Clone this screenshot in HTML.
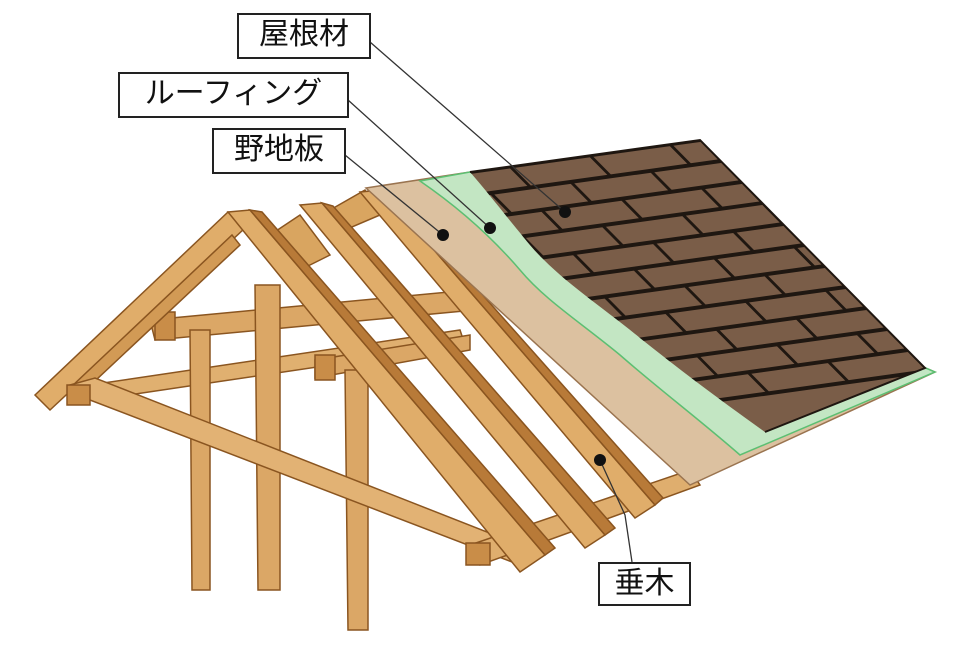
<!DOCTYPE html>
<html><head><meta charset="utf-8"><style>
html,body{margin:0;padding:0;background:#fff;}
.lab{position:absolute;border:2px solid #222;background:#fff;font-family:"Liberation Sans","Noto Sans CJK JP",sans-serif;font-size:30px;line-height:40px;color:#111;text-align:center;box-sizing:border-box;}
</style></head><body>
<div style="position:relative;width:962px;height:651px;overflow:hidden;">
<svg width="962" height="651" viewBox="0 0 962 651" style="position:absolute;left:0;top:0">
<defs>
<clipPath id="sh"><path d="M470,172 L700,140 L925,368 L765,432 C720,400 680,370 640,338 C600,305 560,280 530,245 C505,215 490,195 470,172 Z"/></clipPath>
</defs>
<g stroke="#8a5520" stroke-width="1.5">
<polygon points="270,235 300,215 330,255 300,270" fill="#d9a560"/>
<polygon points="330,210 365,190 380,215 345,230" fill="#d9a560"/>
<polygon points="150,320 470,290 475,310 155,340" fill="#dba766"/>
<polygon points="155,312 175,312 175,340 155,340" fill="#c98d48"/>
<polygon points="90,385 460,330 465,345 95,400" fill="#e0b070"/>
<polygon points="315,360 470,335 470,350 315,378" fill="#dba766"/>
<polygon points="315,355 335,355 335,380 315,380" fill="#c98d48"/>
<polygon points="35,395 228,212 245,228 50,410" fill="#e0ad6a"/>
<polygon points="70,388 232,235 240,245 80,395" fill="#d29a55"/>
<polygon points="190,330 210,330 210,590 192,590" fill="#dba766"/>
<polygon points="255,285 280,285 280,590 258,590" fill="#dba766"/>
<polygon points="345,370 368,370 368,630 348,630" fill="#dba766"/>
<polygon points="70,385 95,378 520,545 520,565 90,400 70,400" fill="#e2b274"/>
<polygon points="67,385 90,385 90,405 67,405" fill="#c98d48"/>
<polygon points="470,545 690,470 700,485 480,565" fill="#dfae6e"/>
<polygon points="466,543 490,543 490,565 466,565" fill="#c98d48"/>
<polygon points="228,212 250,210 545,555 520,572" fill="#e0ad6a"/>
<polygon points="250,210 262,212 555,548 545,555" fill="#b87a38"/>
<polygon points="300,205 322,203 605,535 585,548" fill="#e0ad6a"/>
<polygon points="322,203 333,206 615,528 605,535" fill="#b87a38"/>
<polygon points="360,192 382,190 655,505 635,518" fill="#e0ad6a"/>
<polygon points="382,190 392,193 663,498 655,505" fill="#b87a38"/>
</g>
<!-- sheathing -->
<polygon points="366,188 470,172 935,372 690,485" fill="#dcc1a0" stroke="#9a7450" stroke-width="1.5"/>
<!-- green roofing -->
<path d="M420,181 L470,172 L935,372 L740,455 C700,420 660,390 620,355 C580,322 545,300 520,270 C490,235 455,205 420,181 Z" fill="#c3e6c3" stroke="#5cbf72" stroke-width="1.5"/>
<!-- shingles -->
<path d="M470,172 L700,140 L925,368 L765,432 C720,400 680,370 640,338 C600,305 560,280 530,245 C505,215 490,195 470,172 Z" fill="#7a5d48"/>
<g clip-path="url(#sh)" stroke="#1f1711" stroke-width="3.5" fill="none">
<g transform="matrix(1,-0.139,0.99,1.0,470,172)">
<path d="M-200,0H600 M-200,21H600 M-200,42H600 M-200,63H600 M-200,84H600 M-200,105H600 M-200,126H600 M-200,147H600 M-200,168H600 M-200,189H600 M-200,210H600 M-200,231H600"/>
<path d="M-120,0V21M-40,0V21M40,0V21M120,0V21M200,0V21M280,0V21
M-80,21V42M0,21V42M80,21V42M160,21V42M240,21V42
M-130,42V63M-50,42V63M30,42V63M110,42V63M190,42V63M270,42V63
M-90,63V84M-10,63V84M70,63V84M150,63V84M230,63V84
M-140,84V105M-60,84V105M20,84V105M100,84V105M180,84V105M260,84V105
M-100,105V126M-20,105V126M60,105V126M140,105V126M220,105V126
M-150,126V147M-70,126V147M10,126V147M90,126V147M170,126V147M250,126V147
M-110,147V168M-30,147V168M50,147V168M130,147V168M210,147V168
M-160,168V189M-80,168V189M0,168V189M80,168V189M160,168V189M240,168V189
M-120,189V210M-40,189V210M40,189V210M120,189V210M200,189V210
M-170,210V231M-90,210V231M-10,210V231M70,210V231M150,210V231"/>
</g>
</g>
<path d="M470,172 L700,140 L925,368 L765,432" fill="none" stroke="#1f1711" stroke-width="2"/>
<g stroke="#333" stroke-width="1.3" fill="none">
<line x1="370" y1="42" x2="565" y2="212"/>
<line x1="348" y1="100" x2="490" y2="228"/>
<line x1="345" y1="155" x2="443" y2="235"/>
<polyline points="600,460 625,515 632,562"/>
</g>
<g fill="#111">
<circle cx="565" cy="212" r="6"/><circle cx="490" cy="228" r="6"/><circle cx="443" cy="235" r="6"/><circle cx="600" cy="460" r="6"/>
</g>
</svg>
<div class="lab" style="left:237px;top:13px;width:134px;height:46px;">屋根材</div>
<div class="lab" style="left:118px;top:72px;width:231px;height:46px;">ルーフィング</div>
<div class="lab" style="left:212px;top:128px;width:134px;height:46px;">野地板</div>
<div class="lab" style="left:598px;top:562px;width:93px;height:44px;">垂木</div>
</div>
</body></html>
